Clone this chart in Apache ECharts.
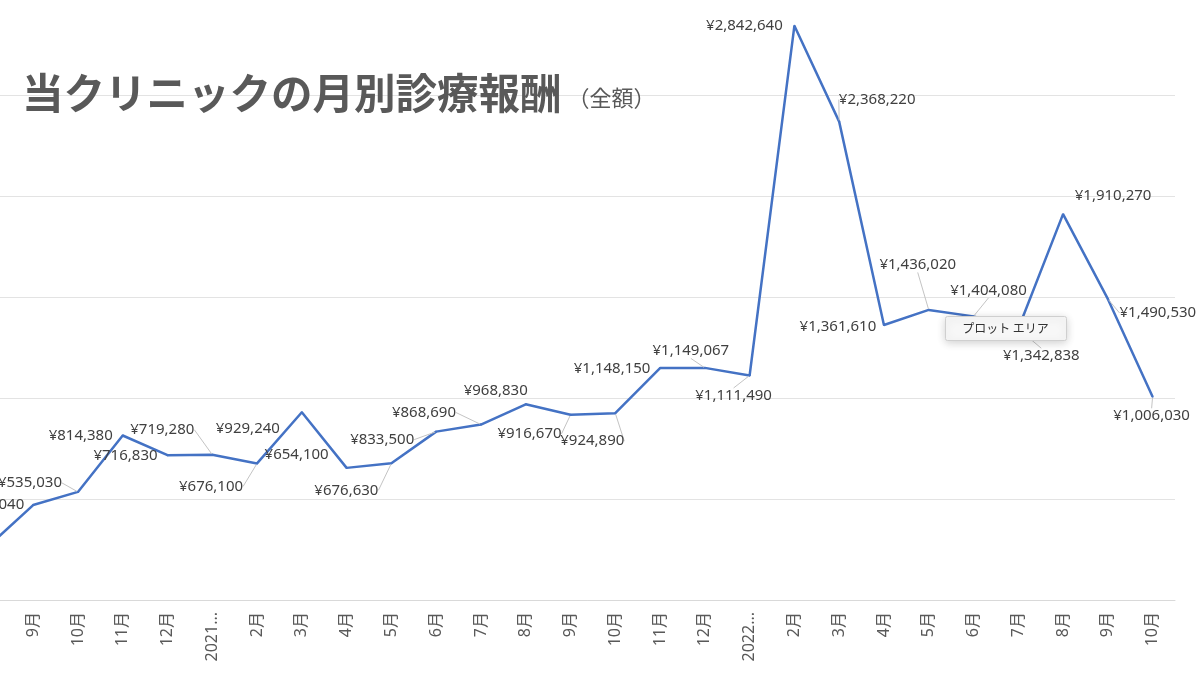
<!DOCTYPE html>
<html>
<head>
<meta charset="utf-8">
<script src="https://cdn.jsdelivr.net/npm/echarts@6/dist/echarts.min.js"></script>
<style>
    html, body { margin: 0; padding: 0; background: #fff; }
    #main { width: 1200px; height: 675px; }
</style>
</head>
<body>
<div id="main"></div>
<script>
    // months, starting Aug 2020 (first point is cut off at the left edge)
    var months = ['8月', '9月', '10月', '11月', '12月', '2021...', '2月', '3月', '4月', '5月', '6月', '7月', '8月',
        '9月', '10月', '11月', '12月', '2022...', '2月', '3月', '4月', '5月', '6月', '7月', '8月', '9月', '10月'];

    // monthly revenue, yen
    var revenue = [267000, 470040, 535030, 814380, 716830, 719280, 676100, 929240, 654100, 676630, 833500,
        868690, 968830, 916670, 924890, 1148150, 1149067, 1111490, 2842640, 2368220, 1361610, 1436020,
        1404080, 1342838, 1910270, 1490530, 1006030];

    var yTicks = { min: 0, max: 3000000, step: 500000 };

    // where each data label sits relative to its point: [dx, dy, leader line]
    var labelShift = [
        null, [-41, 0, 0], [-48, -9, 1], [-42, 0, 0], [-42, 1, 0], [-50, -25, 1], [-46, 23, 1],
        [-54, 16, 0], [-50, -13, 0], [-45, 27, 1], [-54, 8, 1], [-57, -12, 1], [-30, -14, 0],
        [-41, 19, 1], [-23, 28, 1], [-48, 1, 0], [-14, -17, 1], [-16, 20, 1], [-50, 0, 0],
        [38, -22, 1], [-46, 2, 0], [-11, -45, 1], [15, -26, 1], [23, 27, 1], [50, -18, 0],
        [50, 14, 1], [-1, 19, 1]
    ];

    function yen(v) {
        return '¥' + v.toString().replace(/\B(?=(\d{3})+(?!\d))/g, ',');
    }

    var seriesData = revenue.map(function (v, i) {
        var s = labelShift[i];
        return {
            value: v,
            label: { show: !!s },
            labelLine: { show: !!(s && s[2]) }
        };
    });

    var chart = echarts.init(document.getElementById('main'));

    var option = {
        animation: false,
        backgroundColor: '#fff',
        title: {
            text: '{a|当クリニックの月別診療報酬}{b|（全額）}',
            left: 17,
            top: 67,
            textStyle: {
                rich: {
                    a: {
                        fontFamily: 'Noto Sans CJK JP',
                        fontSize: 41.5,
                        fontWeight: 'bold',
                        color: '#595959'
                    },
                    b: {
                        fontFamily: 'Noto Sans CJK JP',
                        fontSize: 22,
                        fontWeight: 'normal',
                        color: '#595959',
                        padding: [10, 0, 0, 6]
                    }
                }
            }
        },
        grid: {
            left: -34,
            right: 25,
            top: -6,
            bottom: 75,
            outerBoundsMode: 'none'
        },
        xAxis: {
            type: 'category',
            data: months,
            boundaryGap: true,
            axisLine: { lineStyle: { color: '#d9d9d9' } },
            axisTick: { show: false },
            axisLabel: {
                rotate: 90,
                interval: 0,
                margin: 12,
                color: '#595959',
                fontSize: 16,
                fontFamily: 'Noto Sans, Noto Sans CJK JP'
            }
        },
        yAxis: {
            type: 'value',
            min: yTicks.min,
            max: yTicks.max,
            interval: yTicks.step,
            axisLabel: { show: false },
            axisLine: { show: false },
            axisTick: { show: false },
            splitLine: { lineStyle: { color: '#e3e3e3', width: 1 } }
        },
        series: [{
            type: 'line',
            data: seriesData,
            symbol: 'circle',
            symbolSize: 2,
            showSymbol: true,
            itemStyle: { color: '#4472c4' },
            lineStyle: { color: '#4472c4', width: 2.5 },
            label: {
                position: 'inside',
                color: '#404040',
                fontSize: 15,
                fontFamily: 'Noto Sans, Noto Sans CJK JP',
                formatter: function (p) { return yen(p.value); }
            },
            labelLine: {
                lineStyle: { color: '#c4c4c4', width: 1 }
            },
            labelLayout: function (p) {
                var s = labelShift[p.dataIndex];
                if (!s) return {};
                return { dx: s[0], dy: s[1] };
            }
        }],
        graphic: [{
            type: 'group',
            left: 945,
            top: 316,
            z: 100,
            children: [{
                type: 'rect',
                z: 100,
                shape: { width: 121, height: 24, r: 2 },
                style: {
                    fill: '#f7f7f7',
                    stroke: '#cfcfcf',
                    lineWidth: 1,
                    shadowBlur: 8,
                    shadowColor: 'rgba(0,0,0,0.18)',
                    shadowOffsetY: 2
                }
            }, {
                type: 'text',
                z: 101,
                x: 60,
                y: 12,
                style: {
                    text: 'プロット エリア',
                    fontFamily: 'Noto Sans CJK JP',
                    fontSize: 12,
                    fill: '#333',
                    align: 'center',
                    verticalAlign: 'middle'
                }
            }]
        }]
    };

    chart.setOption(option);
</script>
</body>
</html>
